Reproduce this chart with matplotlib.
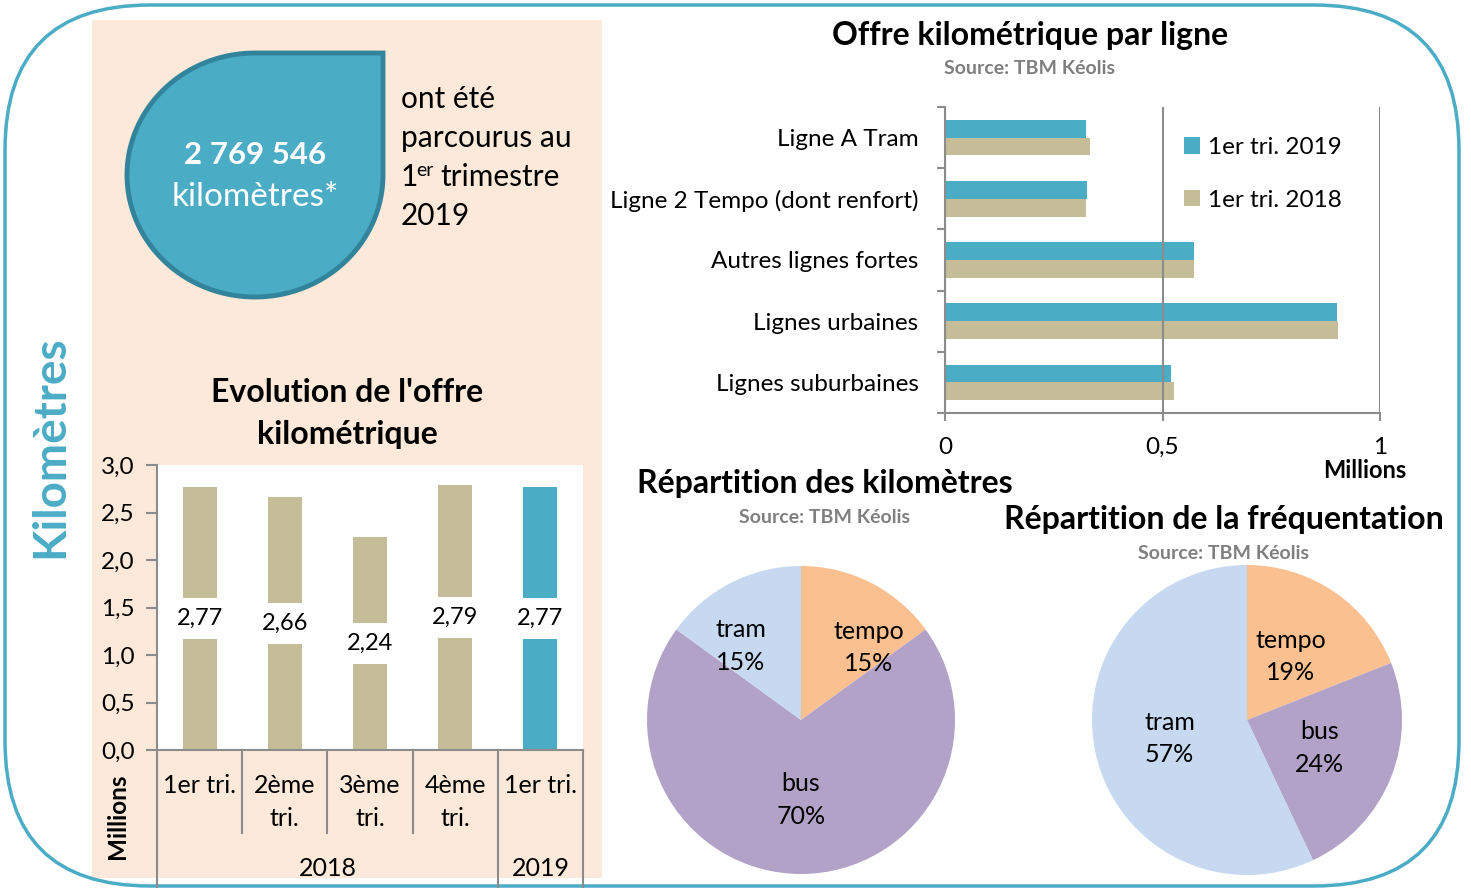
import matplotlib.pyplot as plt
import matplotlib.patches as patches
import numpy as np

plt.rcParams['font.family'] = ['Lato', 'DejaVu Sans']

W, H = 1471, 888

# Data
quarters = ['1er tri.', '2ème\ntri.', '3ème\ntri.', '4ème\ntri.', '1er tri.']
quarter_years = ['2018', '2018', '2018', '2018', '2019']
km_millions = [2.77, 2.66, 2.24, 2.79, 2.77]

lignes = ['Ligne A Tram', 'Ligne 2 Tempo (dont renfort)', 'Autres lignes fortes',
          'Lignes urbaines', 'Lignes suburbaines']
km_2019 = [0.324, 0.326, 0.572, 0.900, 0.519]
km_2018 = [0.333, 0.324, 0.573, 0.903, 0.526]

modes = ['tempo', 'bus', 'tram']
part_km = [15, 70, 15]
part_freq = [19, 24, 57]

# Colours
BLUE = '#4BACC6'
DARK_BLUE = '#31849B'
TAN = '#C4BD97'
PEACH = '#FDE9D9'
GRAY = '#8C8C8C'
SRC_GRAY = '#7F7F7F'
mode_colors = ['#FAC090', '#B2A2C7', '#C6D9F0']

TITLE_FS = 23
SRC_FS = 14


def rect(x0, y0, x1, y1):
    # pixel box (y down) -> figure fraction
    return [x0 / W, 1 - y1 / H, (x1 - x0) / W, (y1 - y0) / H]


fig = plt.figure(figsize=(W / 100, H / 100), dpi=100)

# Background layer in pixel coordinates
bg = fig.add_axes([0, 0, 1, 1])
bg.set_xlim(0, W)
bg.set_ylim(H, 0)
bg.axis('off')

bg.add_patch(patches.Rectangle((92, 20), 510, 858, facecolor=PEACH, edgecolor='none'))
bg.add_patch(patches.FancyBboxPatch((5, 5), 1454, 881,
                                    boxstyle='round,pad=0,rounding_size=145',
                                    facecolor='none', edgecolor=BLUE, linewidth=2.5))

# Teardrop
cx, cy, rx, ry = 255, 175, 128, 122
theta = np.radians(np.linspace(90, 360, 200))
pts = np.column_stack([cx + rx * np.cos(theta), cy - ry * np.sin(theta)])
pts = np.vstack([pts, [cx + rx, cy - ry]])
bg.add_patch(patches.Polygon(pts, closed=True, facecolor=BLUE, edgecolor=DARK_BLUE, linewidth=3.5))
bg.text(cx, 155, '2 769 546', color='white', fontsize=22.5, fontweight='bold', ha='center', va='center')
bg.text(cx, 197, 'kilomètres*', color='white', fontsize=24, ha='center', va='center')

bg.text(401, 99, 'ont été', fontsize=21.5, ha='left', va='center')
bg.text(401, 138, 'parcourus au', fontsize=21.5, ha='left', va='center')
bg.text(401, 177, '1', fontsize=21.5, ha='left', va='center')
bg.text(416, 171, 'er', fontsize=14, ha='left', va='center')
bg.text(440, 177, 'trimestre', fontsize=21.5, ha='left', va='center')
bg.text(401, 216, '2019', fontsize=21.5, ha='left', va='center')

bg.text(50, 447, 'Kilomètres', rotation=90, color=BLUE, fontsize=33, fontweight='bold',
        ha='center', va='center')

# Titles
bg.text(347, 392, "Evolution de l'offre", fontsize=TITLE_FS, fontweight='bold', ha='center', va='center')
bg.text(347, 434, 'kilométrique', fontsize=TITLE_FS, fontweight='bold', ha='center', va='center')
bg.text(1030, 35, 'Offre kilométrique par ligne', fontsize=TITLE_FS, fontweight='bold', ha='center', va='center')
bg.text(1030, 68, 'Source: TBM Kéolis', fontsize=SRC_FS, fontweight='bold', color=SRC_GRAY, ha='center', va='center')
bg.text(825, 483, 'Répartition des kilomètres', fontsize=TITLE_FS, fontweight='bold', ha='center', va='center')
bg.text(825, 517, 'Source: TBM Kéolis', fontsize=SRC_FS, fontweight='bold', color=SRC_GRAY, ha='center', va='center')
bg.text(1224, 519, 'Répartition de la fréquentation', fontsize=TITLE_FS, fontweight='bold', ha='center', va='center')
bg.text(1224, 553, 'Source: TBM Kéolis', fontsize=SRC_FS, fontweight='bold', color=SRC_GRAY, ha='center', va='center')
bg.text(1365, 470, 'Millions', fontsize=17, fontweight='bold', ha='center', va='center')
bg.text(118, 816, 'Millions', rotation=90, fontsize=17.5, fontweight='bold', ha='center', va='center')

# ---- Evolution bar chart ----
top1, bot1 = 465, 750
ax1 = fig.add_axes(rect(157, top1, 583, bot1))
ax1.set_facecolor('white')
x = np.arange(len(km_millions))
bar_colors = [BLUE if yr == '2019' else TAN for yr in quarter_years]
ax1.bar(x, km_millions, width=0.4, color=bar_colors)
ax1.set_xlim(-0.5, len(x) - 0.5)
ax1.set_ylim(0, 3)
yt = np.arange(0, 3.01, 0.5)
ax1.set_yticks(yt)
ax1.set_yticklabels([f'{v:.1f}'.replace('.', ',') for v in yt], fontsize=17.5)
ax1.set_xticks([])
for s in ['top', 'right']:
    ax1.spines[s].set_visible(False)
for s in ['left', 'bottom']:
    ax1.spines[s].set_color(GRAY)
    ax1.spines[s].set_linewidth(1.5)
ax1.tick_params(axis='y', length=8, width=1.5, color=GRAY, pad=8)
for xi, v in zip(x, km_millions):
    ax1.text(xi, v / 2, f'{v:.2f}'.replace('.', ','), ha='center', va='center', fontsize=17,
             bbox=dict(boxstyle='square,pad=0.42', facecolor='white', edgecolor='none'))


def fy(py):
    return (bot1 - py) / (bot1 - top1)


tr = ax1.get_xaxis_transform()
for xi, q in zip(x, quarters):
    ax1.text(xi, fy(774), q, transform=tr, ha='center', va='top', fontsize=18, linespacing=1.5)
for b in x[:-2] + 0.5:
    ax1.plot([b, b], [0, fy(833)], transform=tr, clip_on=False, color=GRAY, lw=1.5)
years = sorted(set(quarter_years))
for yr in years:
    idx = [i for i, q in enumerate(quarter_years) if q == yr]
    ax1.text(np.mean(idx), fy(868), yr, transform=tr, ha='center', va='center', fontsize=18)
    ax1.plot([max(idx) + 0.5] * 2, [0, fy(H)], transform=tr, clip_on=False, color=GRAY, lw=1.5)
ax1.plot([-0.5, -0.5], [0, fy(H)], transform=tr, clip_on=False, color=GRAY, lw=1.5)

# ---- Offre kilometrique par ligne ----
ax2 = fig.add_axes(rect(945, 107, 1380, 413))
ax2.set_facecolor('none')
yy = np.arange(len(lignes))
h = 0.29
ax2.barh(yy - h / 2, km_2019, height=h, color=BLUE, label='1er tri. 2019', zorder=1)
ax2.barh(yy + h / 2, km_2018, height=h, color=TAN, label='1er tri. 2018', zorder=1)
ax2.set_ylim(len(yy) - 0.5, -0.5)
ax2.set_xlim(0, 1)
ax2.set_yticks(np.arange(-0.5, len(yy)))
ax2.set_yticklabels([])
ax2.set_yticks(yy, minor=True)
ax2.set_yticklabels(lignes, minor=True, fontsize=17.5)
ax2.tick_params(axis='y', which='minor', length=0, pad=19)
ax2.tick_params(axis='y', which='major', length=6, width=1.5, color=GRAY)
ax2.set_xticks([0, 0.5, 1])
ax2.set_xticklabels(['0', '0,5', '1'], fontsize=17.5)
ax2.tick_params(axis='x', length=6, width=1.5, color=GRAY, pad=11)
ax2.grid(axis='x', color=GRAY, linewidth=1.5, zorder=2)
ax2.set_axisbelow(False)
for s in ['top', 'right']:
    ax2.spines[s].set_visible(False)
for s in ['left', 'bottom']:
    ax2.spines[s].set_color(GRAY)
    ax2.spines[s].set_linewidth(1.5)
ax2.legend(loc='upper left', bbox_to_anchor=((1184 - 945) / 435, (413 - 137) / 306),
           frameon=False, fontsize=17.5, handlelength=0.65, handleheight=0.65,
           handletextpad=0.35, labelspacing=1.3, borderaxespad=0, borderpad=0)

# ---- Pies ----
pie_specs = [
    ((801, 720, 154), part_km, [(0.44, 0.47), (0.0, -0.52), (-0.39, 0.48)]),
    ((1247, 720, 155), part_freq, [(0.28, 0.41), (0.47, -0.18), (-0.5, -0.12)]),
]
for (pcx, pcy, pr), shares, lab_xy in pie_specs:
    ax = fig.add_axes(rect(pcx - pr, pcy - pr, pcx + pr, pcy + pr))
    ax.pie(shares, colors=mode_colors, startangle=90, counterclock=False, radius=1,
           wedgeprops=dict(linewidth=0))
    ax.set_xlim(-1, 1)
    ax.set_ylim(-1, 1)
    for name, val, (lx, ly) in zip(modes, shares, lab_xy):
        ax.text(lx, ly, f'{name}\n{val}%', ha='center', va='center', fontsize=18, linespacing=1.5)

fig.savefig('out.png', dpi=100)
